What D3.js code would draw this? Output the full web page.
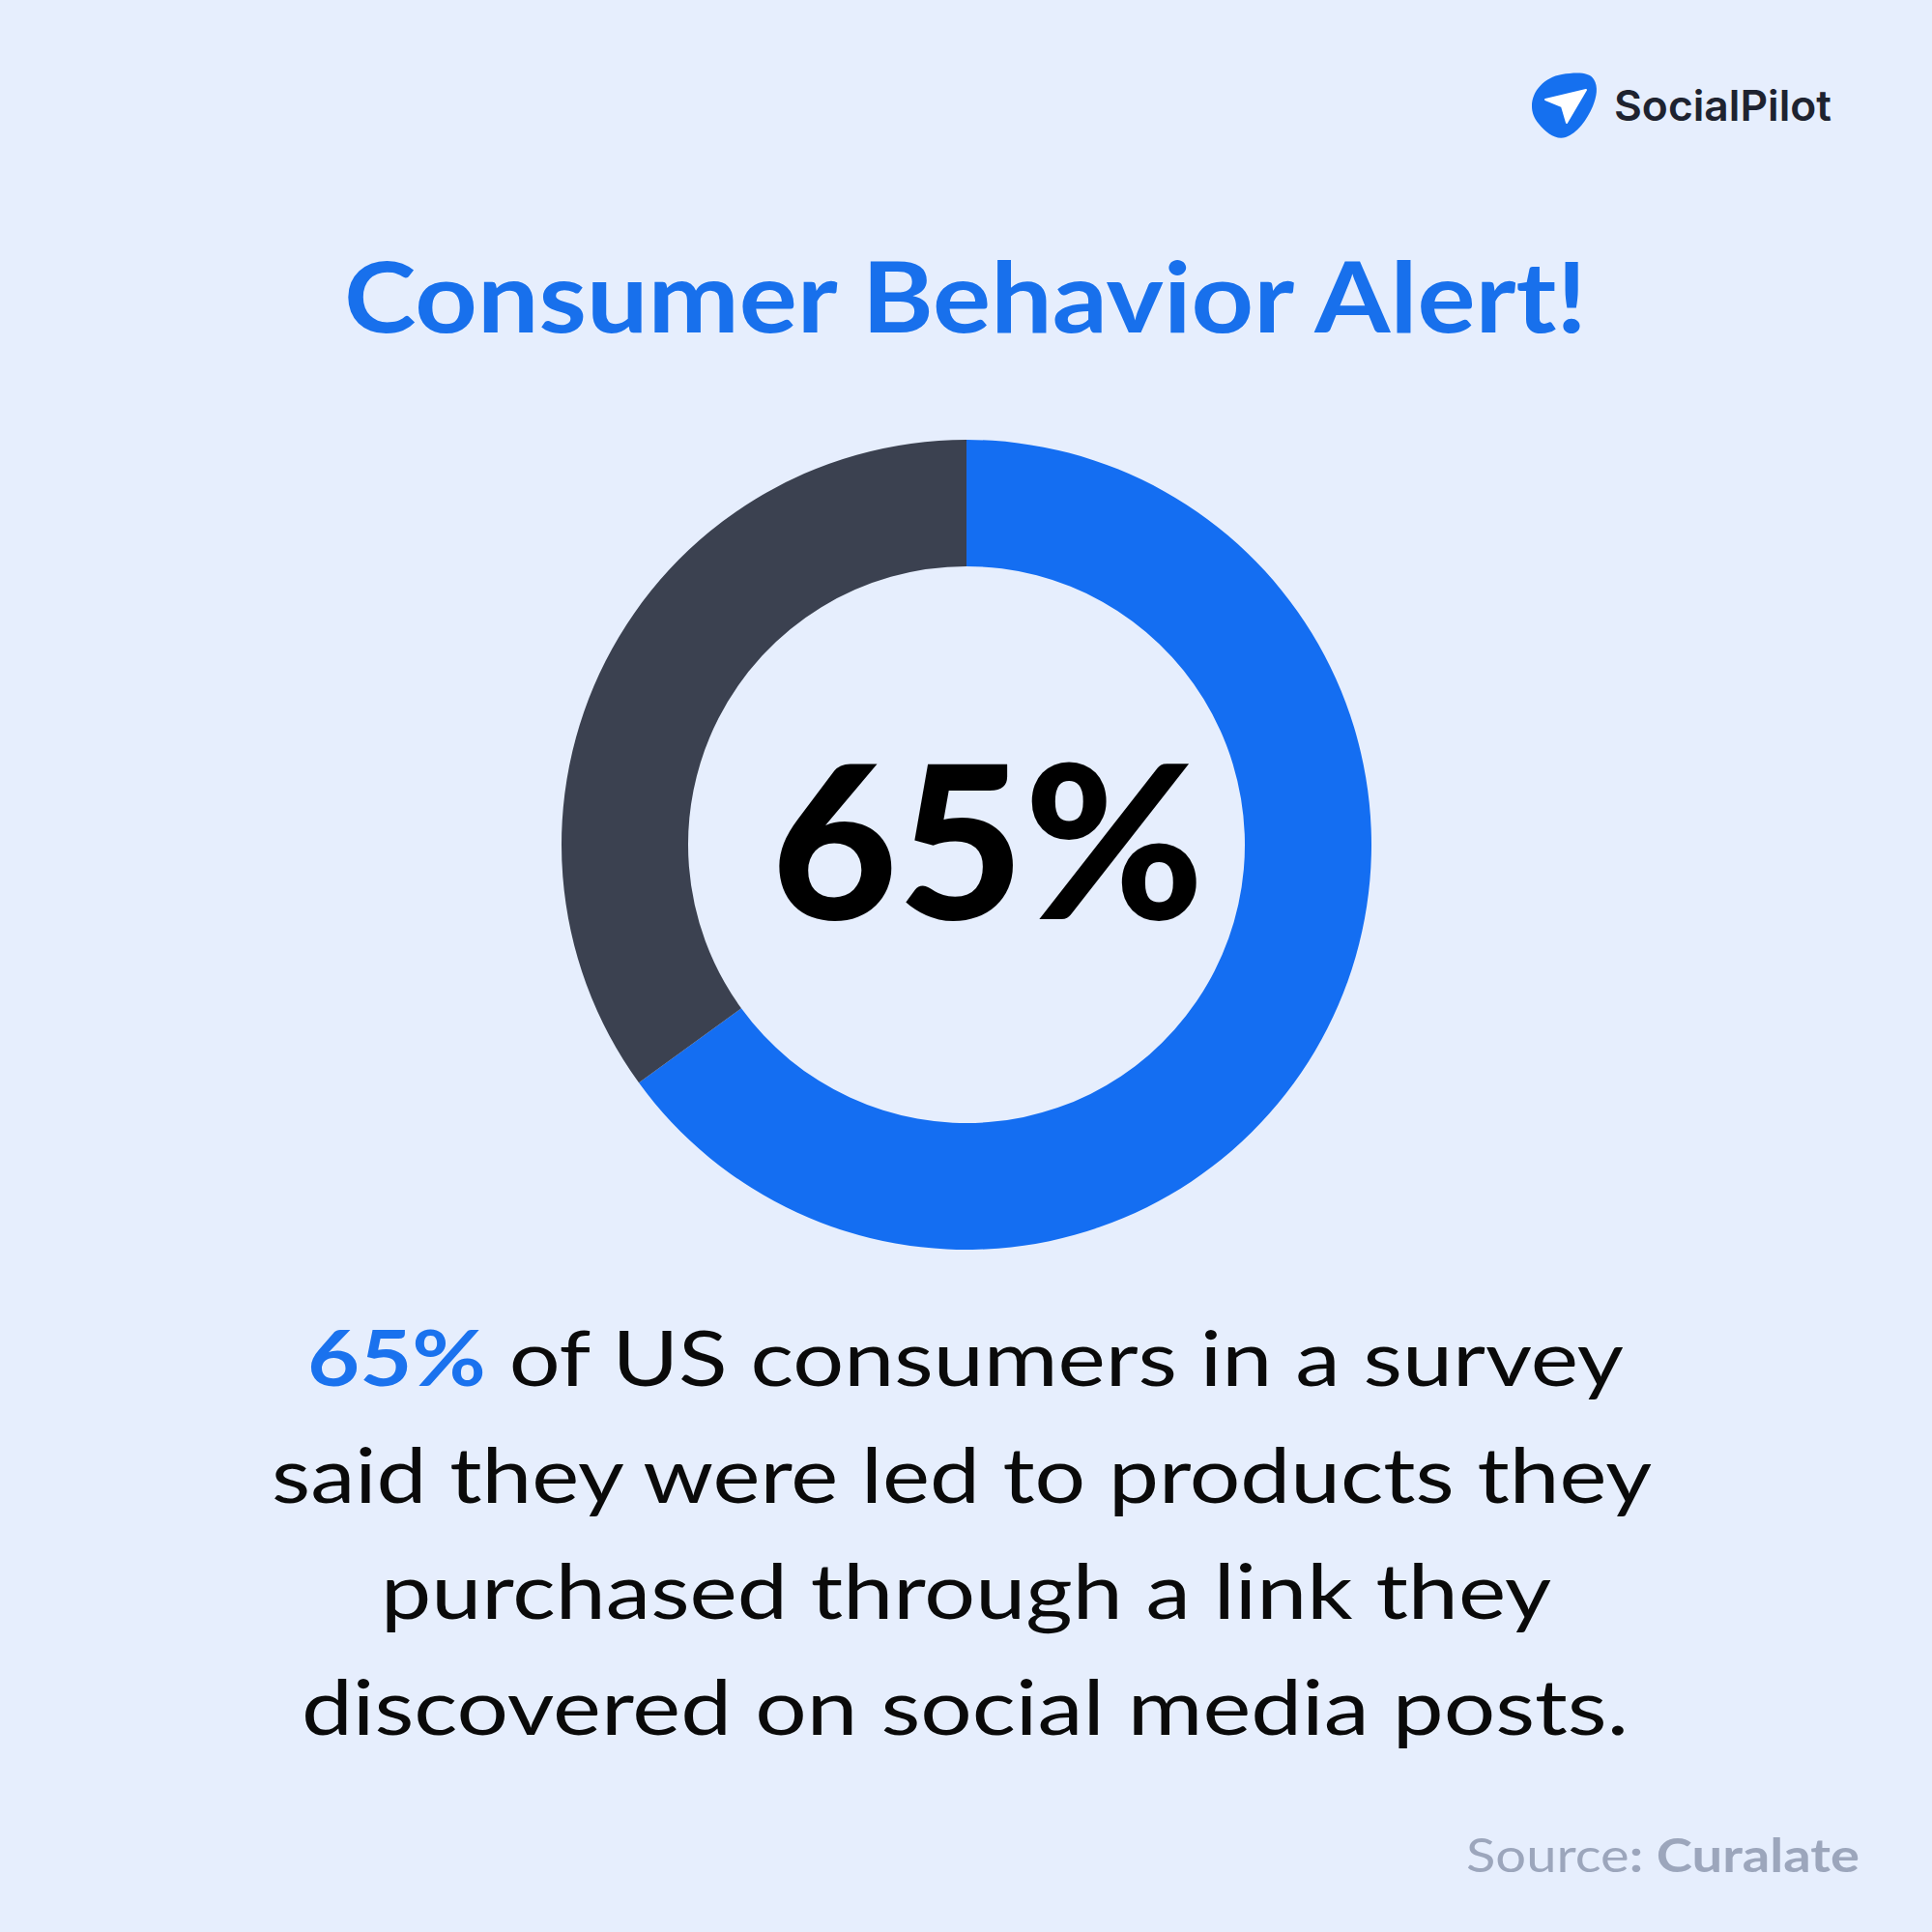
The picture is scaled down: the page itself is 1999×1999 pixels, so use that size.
<!DOCTYPE html>
<html>
<head>
<meta charset="utf-8">
<script src="https://cdn.jsdelivr.net/npm/d3@7"></script>
<style>
  html, body { margin: 0; padding: 0; background: #E6EEFD; }
  svg { display: block; }
</style>
</head>
<body>
<script>
// ---- data ----
const categories = ["Led to purchase via social media link", "Other"];
const values = [65, 35];
const colors = ["#146EF2", "#3B4150"];
const title = "Consumer Behavior Alert!";
const centerLabel = "65%";
const bodyHighlight = "65%";
const bodyLines = [
  " of US consumers in a survey",
  "said they were led to products they",
  "purchased through a link they",
  "discovered on social media posts."
];
const brand = "SocialPilot";
const sourceLabel = "Source";
const sourceName = ": Curalate";

// ---- layout ----
const W = 1999, H = 1999;
const cx = 1000, cy = 874, rOuter = 419, rInner = 288;

const svg = d3.select("body").append("svg")
  .attr("width", W).attr("height", H);

svg.append("rect").attr("width", W).attr("height", H).attr("fill", "#E6EEFD");

// donut
const pie = d3.pie().sort(null).value(d => d)(values);
const arc = d3.arc().innerRadius(rInner).outerRadius(rOuter);
svg.append("g").attr("transform", `translate(${cx},${cy})`)
  .selectAll("path").data(pie).join("path")
  .attr("d", arc)
  .attr("fill", (d, i) => colors[i]);

const LATO = "Lato, 'Open Sans', sans-serif";
const LATO_CAP = 0.7165;

function fitText(sel, left, width) {
  sel.attr("x", left).attr("text-anchor", "start")
     .attr("textLength", width).attr("lengthAdjust", "spacingAndGlyphs");
}

// title
const t = svg.append("text")
  .attr("y", 344)
  .attr("font-family", LATO).attr("font-weight", 700)
  .attr("font-size", 73 / LATO_CAP)
  .attr("fill", "#1870EC")
  .text(title);
fitText(t, 356, 1286);

// center number
const c = svg.append("text")
  .attr("y", 951)
  .attr("font-family", LATO).attr("font-weight", 900)
  .attr("font-size", 159 / LATO_CAP)
  .attr("fill", "#000000")
  .text(centerLabel);
fitText(c, 798, 448);

// body
const bodyGeom = [
  { left: 318, width: 1362, y: 1434 },
  { left: 281, width: 1428, y: 1555 },
  { left: 394, width: 1211, y: 1675 },
  { left: 312, width: 1373, y: 1795 }
];
bodyLines.forEach((line, i) => {
  const g = bodyGeom[i];
  const tx = svg.append("text")
    .attr("y", g.y)
    .attr("font-family", LATO).attr("font-weight", 400)
    .attr("font-size", 57 / LATO_CAP)
    .attr("fill", "#0A0A0A");
  if (i === 0) {
    tx.append("tspan").attr("fill", "#1A72EE").attr("font-weight", 700).text(bodyHighlight);
    tx.append("tspan").text(line);
  } else {
    tx.text(line);
  }
  fitText(tx, g.left, g.width);
});

// logo
const logo = svg.append("g").attr("transform", "translate(1578,70)");
logo.append("path")
  .attr("d", "M7,40 C7,24 20,10 38,7 C52,5 66,4 71,12 C76,20 74,30 70,40 C64,54 54,68 42,72 C32,75 22,68 14,58 C9,52 7,46 7,40 Z")
  .attr("fill", "#1570EF");
logo.append("path")
  .attr("d", "M21,33 L63,23 L43,57 L38,40 Z")
  .attr("fill", "#FFFFFF")
  .attr("stroke", "#FFFFFF").attr("stroke-width", 2).attr("stroke-linejoin", "round");
const lt = svg.append("text")
  .attr("y", 125)
  .attr("font-family", "Inter, sans-serif").attr("font-weight", 600)
  .attr("font-size", 32 / 0.727)
  .attr("fill", "#1E2330")
  .text(brand);
fitText(lt, 1670, 225);

// source
const st = svg.append("text")
  .attr("y", 1937)
  .attr("font-family", LATO)
  .attr("font-size", 34 / LATO_CAP)
  .attr("fill", "#9CA6BC");
st.append("tspan").attr("font-weight", 400).text(sourceLabel);
st.append("tspan").attr("font-weight", 700).text(sourceName);
fitText(st, 1517, 407);
</script>
</body>
</html>
